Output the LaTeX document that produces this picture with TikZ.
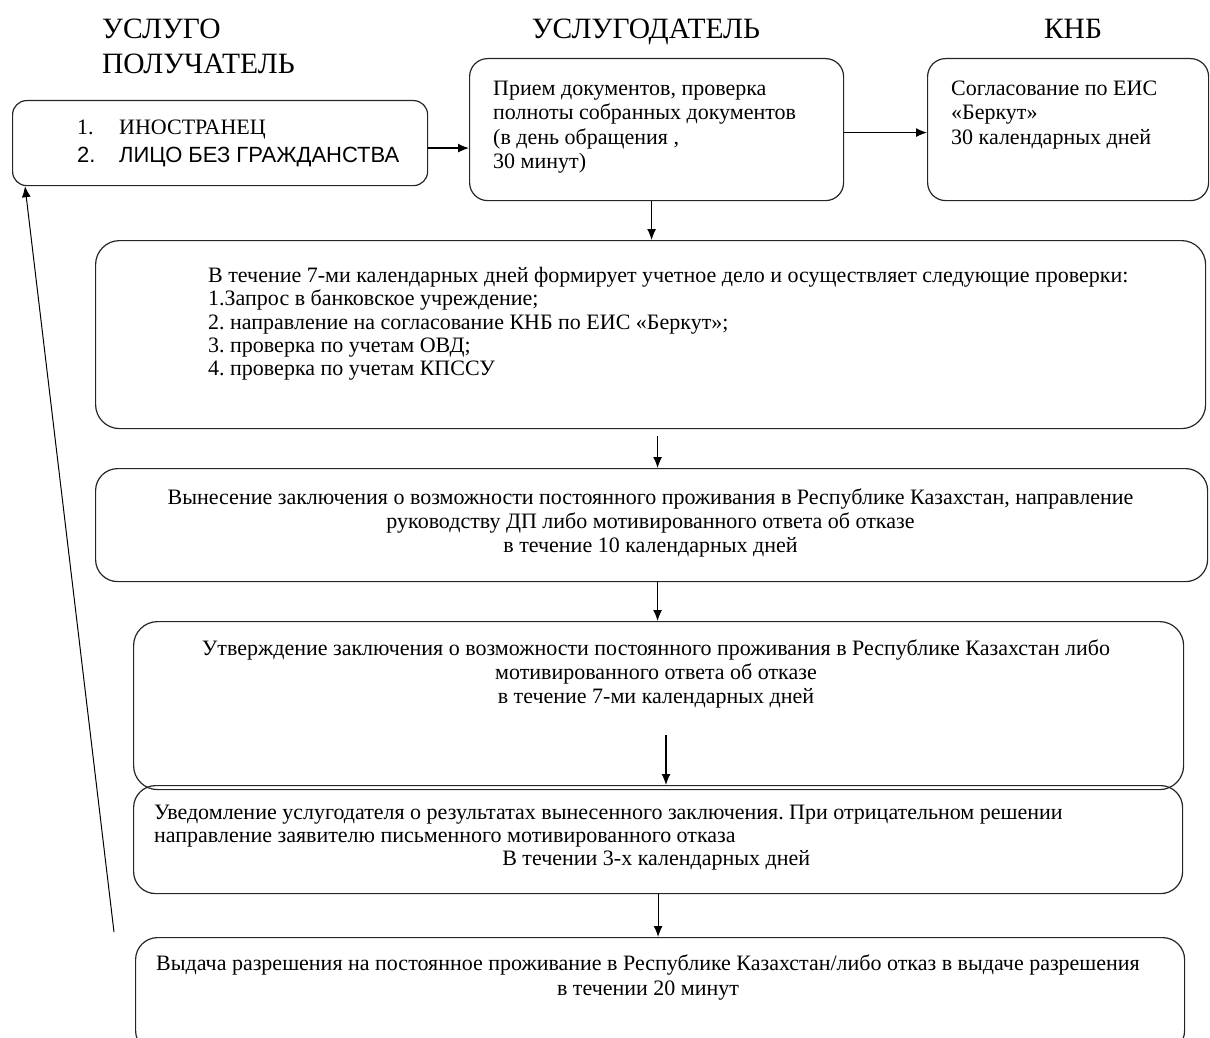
\documentclass[tikz,border=0pt]{standalone}
\usepackage{fontspec}
\setmainfont{Liberation Serif}
\newfontfamily\sansfont{Liberation Sans}
\frenchspacing
\usetikzlibrary{positioning,arrows.meta}
\tikzset{
box/.style={draw=black!85, line width=1.2pt, rounded corners=18pt, anchor=north west, inner sep=0pt},
txt/.style={inner sep=0pt, font=\fontsize{22}{24.5}\selectfont},
head/.style={inner sep=0pt, font=\fontsize{29.5}{35}\selectfont},
arr/.style={-{Latex[length=11pt,width=9pt]}, line width=1.2pt},
}

\begin{document}
\begin{tikzpicture}[x=1pt,y=-1pt]
            \useasboundingbox (0,0) rectangle (1210,1038);
            \clip (0,0) rectangle (1210,1038);

            \node[head, anchor=north west, align=left] (hpol) at (102,19) {УСЛУГО\\ПОЛУЧАТЕЛЬ};
            \node[head, anchor=base] (hdat) at (646,39) {УСЛУГОДАТЕЛЬ};
            \node[head, anchor=base] (hknb) at (1073,39) {КНБ};

            \node[box, rounded corners=14pt, minimum width=415pt, minimum height=85pt] (b1) at (12,100) {};
            \node[box, minimum width=374pt, minimum height=142pt] (b2) at (469,58) {};
            \node[box, minimum width=281pt, minimum height=142pt] (b3) at (927,58) {};
            \node[box, rounded corners=24pt, minimum width=1110pt, minimum height=188pt] (b4) at (95,240) {};
            \node[box, rounded corners=22pt, minimum width=1112pt, minimum height=113pt] (b5) at (95,468) {};
            \node[box, rounded corners=24pt, minimum width=1050pt, minimum height=168pt] (b6) at (133,621) {};
            \node[box, rounded corners=22pt, minimum width=1049pt, minimum height=108pt] (b7) at (133,785) {};
            \node[box, rounded corners=22pt, minimum width=1049pt, minimum height=115pt] (b8) at (135,937) {};

            \node[txt, anchor=north west, align=left, font=\fontsize{22}{28}\selectfont] (t1) at (77,120)
                {\makebox[42pt][l]{1.}ИНОСТРАНЕЦ\\{\sansfont\makebox[42pt][l]{2.}ЛИЦО БЕЗ ГРАЖДАНСТВА}};
            \node[txt, anchor=north west, align=left] (t2) at (493,80.5)
                {Прием документов, проверка\\полноты собранных документов\\(в день обращения ,\\30 минут)};
            \node[txt, anchor=north west, align=left] (t3) at (951,80.5)
                {Согласование по ЕИС\\«Беркут»\\30 календарных дней};
            \node[txt, anchor=north west, align=left, font=\fontsize{22}{23.3}\selectfont] (t4) at (208,267)
                {В течение 7-ми календарных дней формирует учетное дело и осуществляет следующие проверки:\\
                 1.Запрос в банковское учреждение;\\
                 2. направление на согласование КНБ по ЕИС «Беркут»;\\
                 3. проверка по учетам ОВД;\\
                 4. проверка по учетам КПССУ};
            \node[txt, anchor=north, align=center, font=\fontsize{22}{24}\selectfont] (t5) at (650.5,489)
                {Вынесение заключения о возможности постоянного проживания в Республике Казахстан, направление\\
                 руководству ДП либо мотивированного ответа об отказе\\
                 в течение 10 календарных дней};
            \node[txt, anchor=north, align=center, font=\fontsize{22}{24}\selectfont] (t6) at (656,640)
                {Утверждение заключения о возможности постоянного проживания в Республике Казахстан либо\\
                 мотивированного ответа об отказе\\
                 в течение 7-ми календарных дней};
            \node[txt, anchor=north west, align=flush left, text width=1004pt, font=\fontsize{22}{23}\selectfont] (t7) at (154,805)
                {Уведомление услугодателя о результатах вынесенного заключения. При отрицательном решении\\
                 направление заявителю письменного мотивированного отказа\\
                 \makebox[\linewidth][c]{В течении 3-х календарных дней}};
            \node[txt, anchor=north, align=center, font=\fontsize{22}{25}\selectfont] (t8) at (648,955)
                {Выдача разрешения на постоянное проживание в Республике Казахстан/либо отказ в выдаче разрешения\\
                 в течении 20 минут};

            \coordinate (c6) at (666,735);
            \coordinate (cfb) at (114,932);

            \draw[arr] ([yshift=-5pt]b1.east) -- ([yshift=-5pt]b1.east -| b2.west);
            \draw[arr] ([yshift=-3pt]b2.east) -- ([yshift=-3pt]b2.east -| b3.west);
            \draw[arr] ([xshift=-5pt]b2.south) -- ([xshift=-5pt]b2.south |- b4.north);
            \draw[arr, shorten <=7pt] ([xshift=7pt]b4.south) -- ([xshift=7pt]b4.south |- b5.north);
            \draw[arr] ([xshift=6pt]b5.south) -- ([xshift=6pt]b5.south |- b6.north);
            \draw[arr] (c6) -- (c6 |- b7.north);
            \draw[arr] (b7.south) -- (b7.south |- b8.north);
            \draw[arr, line width=1pt] (cfb) -- ([xshift=13pt]b1.south west);
\end{tikzpicture}
\end{document}
